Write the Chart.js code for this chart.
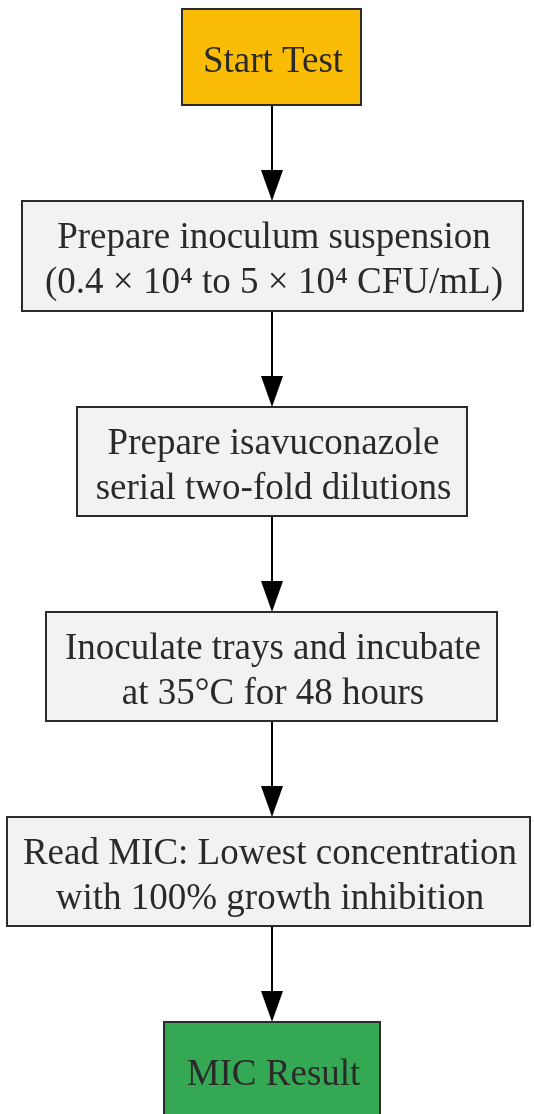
<!DOCTYPE html>
<html>
<head>
<meta charset="utf-8">
<script src="https://cdn.jsdelivr.net/npm/chart.js@4.4.1/dist/chart.umd.min.js"></script>
<style>
  html, body { margin: 0; padding: 0; background: #ffffff; }
  #wrap { width: 534px; height: 1114px; }
</style>
</head>
<body>
<div id="wrap"><canvas id="c" width="534" height="1114"></canvas></div>
<script>
// Flowchart steps (data)
const stepLabels = [
  ["Start Test"],
  ["Prepare inoculum suspension", "(0.4 × 10⁴ to 5 × 10⁴ CFU/mL)"],
  ["Prepare isavuconazole", "serial two-fold dilutions"],
  ["Inoculate trays and incubate", "at 35°C for 48 hours"],
  ["Read MIC: Lowest concentration", "with 100% growth inhibition"],
  ["MIC Result"]
];
const stepKinds = ["start", "process", "process", "process", "process", "end"];
// Node extents in chart units (x left/right, y top/bottom)
const boxLeft   = [182, 22, 77, 46, 7, 164];
const boxRight  = [361, 523, 467, 497, 530, 380];
const boxTop    = [9, 201, 407, 612, 817, 1022];
const boxBottom = [105, 311, 516, 721, 926, 1118];
// Edges: from -> to
const edgeFrom = [0, 1, 2, 3, 4];
const edgeTo   = [1, 2, 3, 4, 5];

const kindFill = { start: "#FBBC05", process: "#F1F2F4", end: "#34A853" };

const flowPlugin = {
  id: "flow",
  afterDatasetsDraw(chart) {
    const { ctx, scales: { x, y } } = chart;
    ctx.save();
    // edges
    edgeFrom.forEach((f, i) => {
      const t = edgeTo[i];
      const cx = x.getPixelForValue(272);
      const y0 = y.getPixelForValue(boxBottom[f]);
      const y1 = y.getPixelForValue(boxTop[t]);
      const ah = 31, aw = 11;
      ctx.strokeStyle = "#000";
      ctx.lineWidth = 2;
      ctx.beginPath();
      ctx.moveTo(cx, y0);
      ctx.lineTo(cx, y1 - ah + 2);
      ctx.stroke();
      ctx.fillStyle = "#000";
      ctx.beginPath();
      ctx.moveTo(cx - aw, y1 - ah);
      ctx.lineTo(cx + aw, y1 - ah);
      ctx.lineTo(cx, y1);
      ctx.closePath();
      ctx.fill();
    });
    // nodes
    stepLabels.forEach((lines, i) => {
      const l = x.getPixelForValue(boxLeft[i]);
      const r = x.getPixelForValue(boxRight[i]);
      const tp = y.getPixelForValue(boxTop[i]);
      const bt = y.getPixelForValue(boxBottom[i]);
      ctx.fillStyle = kindFill[stepKinds[i]];
      ctx.fillRect(l, tp, r - l, bt - tp);
      ctx.strokeStyle = "#2b2b2b";
      ctx.lineWidth = 2;
      ctx.strokeRect(l, tp, r - l, bt - tp);
      ctx.fillStyle = "#2a2a2a";
      ctx.font = "37px 'Liberation Serif', 'Times New Roman', serif";
      ctx.textAlign = "center";
      ctx.textBaseline = "middle";
      const cx = (l + r) / 2 + 1.5;
      const cy = i === 5 ? tp + 53 : (tp + bt) / 2 + 5;
      const lh = 45;
      lines.forEach((s, k) => {
        ctx.fillText(s, cx, cy + (k - (lines.length - 1) / 2) * lh);
      });
    });
    ctx.restore();
  }
};

new Chart(document.getElementById("c"), {
  type: "scatter",
  data: {
    datasets: [{
      data: stepLabels.map((_, i) => ({ x: (boxLeft[i] + boxRight[i]) / 2, y: (boxTop[i] + boxBottom[i]) / 2 })),
      pointRadius: 0
    }]
  },
  options: {
    responsive: false,
    animation: false,
    layout: { padding: 0 },
    plugins: { legend: { display: false }, tooltip: { enabled: false } },
    scales: {
      x: { type: "linear", min: 0, max: 534, display: false },
      y: { type: "linear", min: 0, max: 1114, reverse: true, display: false }
    }
  },
  plugins: [flowPlugin]
});
</script>
</body>
</html>
